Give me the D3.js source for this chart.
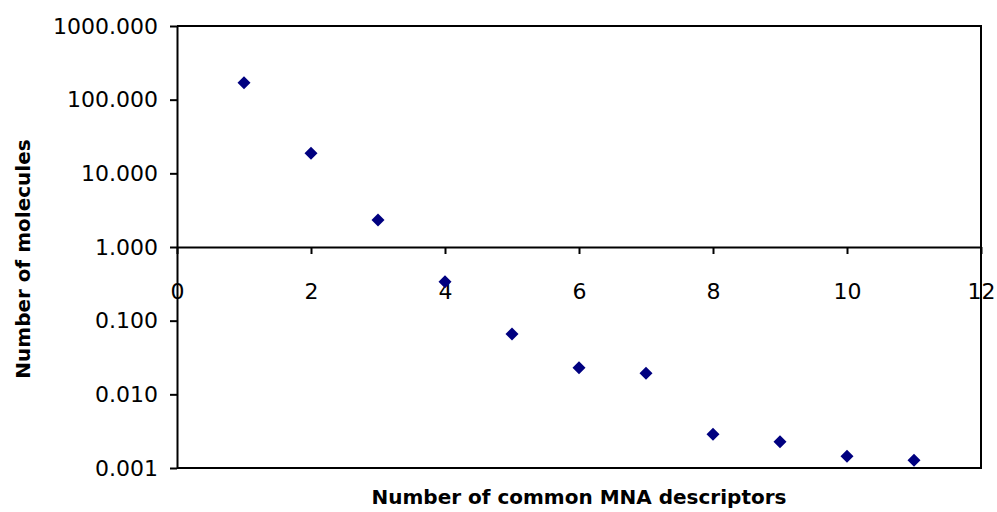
<!DOCTYPE html>
<html>
<head>
<meta charset="utf-8">
<script src="https://cdn.jsdelivr.net/npm/d3@7"></script>
<style>
  body { margin: 0; background: #fff; }
  .axis path, .axis line { stroke: #000; stroke-width: 2px; }
  .axis text { font-family: "DejaVu Sans", sans-serif; font-size: 22px; fill: #000; }
  .axis-title { font-family: "DejaVu Sans", sans-serif; font-size: 20px; font-weight: bold; fill: #000; }
</style>
</head>
<body>
<div id="chart"></div>
<script>
// descriptors shared (x) and molecule counts (y, log scale)
const descriptors = [1, 2, 3, 4, 5, 6, 7, 8, 9, 10, 11];
const molecules = [170, 18.7, 2.33, 0.338, 0.066, 0.023, 0.0193, 0.00287, 0.00228, 0.00144, 0.00127];
const yTicks = [0.001, 0.01, 0.1, 1, 10, 100, 1000];
const xTicks = [0, 2, 4, 6, 8, 10, 12];
const xTitle = "Number of common MNA descriptors";
const yTitle = "Number of molecules";

const width = 997, height = 512;
const margin = {top: 26, right: 16, bottom: 44, left: 177};
const innerW = width - margin.left - margin.right;
const innerH = height - margin.top - margin.bottom;

const svg = d3.select("#chart").append("svg")
    .attr("width", width)
    .attr("height", height);

const g = svg.append("g")
    .attr("transform", `translate(${margin.left},${margin.top})`);

const x = d3.scaleLinear().domain([0, 12]).range([0, innerW]);
const y = d3.scaleLog().domain([0.001, 1000]).range([innerH, 0]);

// plot frame (top, right, bottom)
g.append("path")
    .attr("d", `M0,0H${innerW}V${innerH}H0`)
    .attr("fill", "none")
    .attr("stroke", "#000")
    .attr("stroke-width", 2);

// y axis
g.append("g")
    .attr("class", "axis y-axis")
    .call(d3.axisLeft(y).tickValues(yTicks).tickFormat(d3.format(".3f")).tickSize(7).tickSizeOuter(0).tickPadding(12));

// x axis crossing at y = 1
g.append("g")
    .attr("class", "axis x-axis")
    .attr("transform", `translate(0,${y(1)})`)
    .call(d3.axisBottom(x).tickValues(xTicks).tickSize(7).tickSizeOuter(0).tickPadding(29));

// diamond markers
const diamond = r => `M0,${-r}L${r},0L0,${r}L${-r},0Z`;
g.selectAll(".point")
    .data(descriptors.map((d, i) => ({x: d, y: molecules[i]})))
    .join("path")
    .attr("class", "point")
    .attr("d", diamond(6.5))
    .attr("fill", "#000080")
    .attr("transform", d => `translate(${x(d.x)},${y(d.y)})`);

// axis titles
svg.append("text")
    .attr("class", "axis-title")
    .attr("x", margin.left + innerW / 2)
    .attr("y", 504)
    .attr("text-anchor", "middle")
    .text(xTitle);

svg.append("text")
    .attr("class", "axis-title")
    .attr("transform", "translate(30,259) rotate(-90)")
    .attr("text-anchor", "middle")
    .text(yTitle);
</script>
</body>
</html>
